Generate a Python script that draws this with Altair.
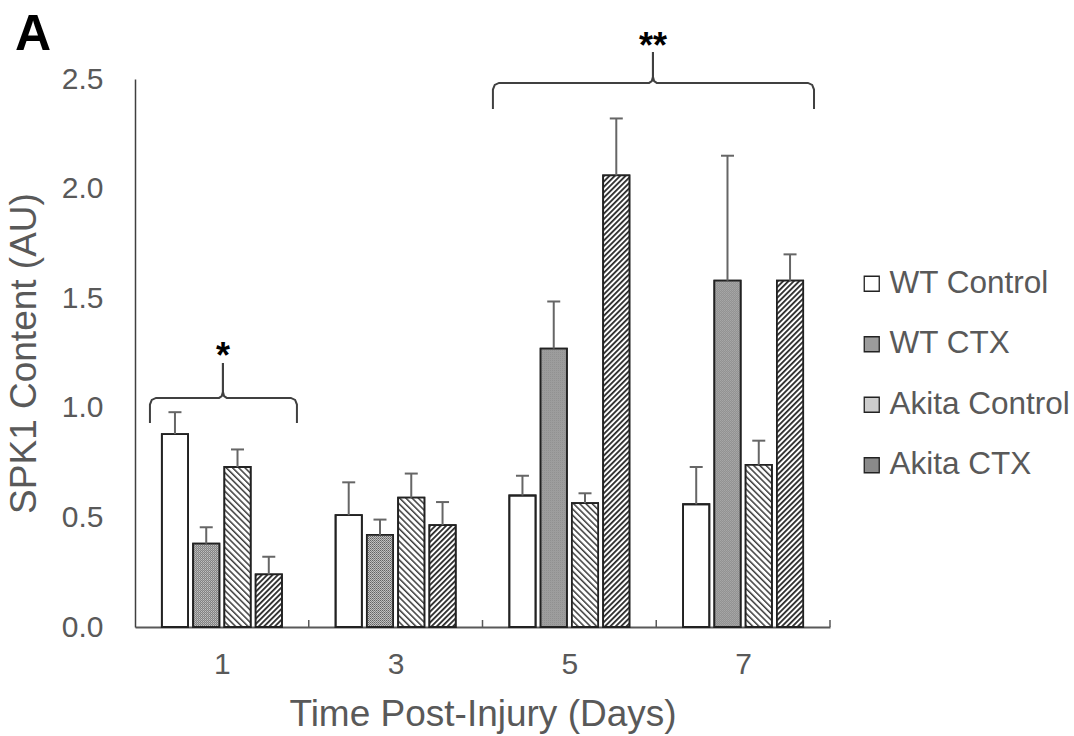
import json
import urllib.parse
import altair as alt
import pandas as pd

FONT = "Liberation Sans"

# ---- data ----
days = ["1", "3", "5", "7"]
groups = ["WT Control", "WT CTX", "Akita Control", "Akita CTX"]

wt_control = [0.88, 0.51, 0.60, 0.56]
wt_ctx = [0.38, 0.42, 1.27, 1.58]
akita_control = [0.73, 0.59, 0.565, 0.74]
akita_ctx = [0.24, 0.465, 2.06, 1.58]

wt_control_err = [0.10, 0.15, 0.09, 0.17]
wt_ctx_err = [0.075, 0.07, 0.215, 0.57]
akita_control_err = [0.08, 0.11, 0.045, 0.11]
akita_ctx_err = [0.08, 0.105, 0.26, 0.12]

y_ticks = [0.0, 0.5, 1.0, 1.5, 2.0, 2.5]

# significance braces, x in "day slots" (0..4 across the axis), y in AU
brace_start = [0.086, 2.06]
brace_end = [0.932, 3.908]
brace_mid = [0.506, 2.981]
brace_low = [0.931, 2.363]
brace_level = [1.045, 2.482]
brace_tip = [1.204, 2.623]
brace_text = ["*", "**"]
brace_text_y = [1.182, 2.594]

# panel letter, placed in the same slot / AU units
panel_text = ["A"]
panel_x = [-0.69]
panel_y = [2.632]

slot_edges = [1, 2, 3, 4]

# ---- tables ----
means = [wt_control, wt_ctx, akita_control, akita_ctx]
errs = [wt_control_err, wt_ctx_err, akita_control_err, akita_ctx_err]
rows = []
for gi, (g, m, e) in enumerate(zip(groups, means, errs)):
    for di, (d, mv, ev) in enumerate(zip(days, m, e)):
        rows.append({"day": d, "di": di, "group": g, "gi": gi, "mean": mv, "upper": mv + ev})
df = pd.DataFrame(rows)

brace_rows = []
ex, dy, tx, ty = 0.035, 0.03, 0.022, 0.028
for i in range(len(brace_start)):
    x0, x1, c = brace_start[i], brace_end[i], brace_mid[i]
    lo, lv, tp = brace_low[i], brace_level[i], brace_tip[i]
    for side, xe, sgn in (("L", x0, 1), ("R", x1, -1)):
        pts = [
            (xe, lo),
            (xe, lv - dy),
            (xe + sgn * ex * 0.3, lv - dy * 0.3),
            (xe + sgn * ex, lv),
            (c - sgn * tx, lv),
            (c - sgn * tx * 0.3, lv + ty * 0.3),
            (c, lv + ty),
            (c, tp),
        ]
        for k, (px, py) in enumerate(pts):
            brace_rows.append({"part": f"{i}{side}", "ord": k, "hx": px, "hy": py})
brace_df = pd.DataFrame(brace_rows)
text_df = pd.DataFrame({"hx": brace_mid, "hy": brace_text_y, "label": brace_text})
panel_df = pd.DataFrame({"hx": panel_x, "hy": panel_y, "label": panel_text})
tick_df = pd.DataFrame({"hx": slot_edges})


# ---- hatch patterns (SVG images filling each bar, unscaled) ----
def pattern_url(pattern_body):
    svg = (
        "<svg xmlns='http://www.w3.org/2000/svg' width='100%' height='100%'>"
        "<defs>" + pattern_body + "</defs>"
        "<rect width='100%' height='100%' fill='url(#p)'/></svg>"
    )
    return "data:image/svg+xml;charset=utf-8," + urllib.parse.quote(svg)


checker = pattern_url(
    "<pattern id='p' width='2' height='2' patternUnits='userSpaceOnUse'>"
    "<rect width='2' height='2' fill='#dedede'/>"
    "<rect width='1' height='1' fill='#555555'/>"
    "<rect x='1' y='1' width='1' height='1' fill='#555555'/></pattern>"
)
back_hatch = pattern_url(
    "<pattern id='p' width='4.4' height='4.4' patternUnits='userSpaceOnUse' patternTransform='rotate(-45)'>"
    "<rect width='4.4' height='4.4' fill='white'/>"
    "<rect width='1.5' height='4.4' fill='#3c3c3c'/></pattern>"
)
fwd_hatch = pattern_url(
    "<pattern id='p' width='3.8' height='3.8' patternUnits='userSpaceOnUse' patternTransform='rotate(45)'>"
    "<rect width='3.8' height='3.8' fill='white'/>"
    "<rect width='1.8' height='3.8' fill='#2a2a2a'/></pattern>"
)
pattern_for = {"WT CTX": checker, "Akita Control": back_hatch, "Akita CTX": fwd_hatch}
legend_fills = ["#ffffff", "#9c9c9c", "#cdcdcd", "#8a8a8a"]

# layout of bars inside a day slot (slot width = 1)
BAR_STEP = 0.18
BAR_W = 0.151

x_scale = alt.Scale(domain=[0, 4], nice=False, zero=False)
y_scale = alt.Scale(domain=[0, 2.5], nice=False, zero=True)

label_expr = json.dumps(days) + "[floor(datum.value)]"
x_axis = alt.Axis(
    title="Time Post-Injury (Days)",
    values=[0.5, 1.5, 2.5, 3.5],
    labelExpr=label_expr,
    labelAngle=0,
    ticks=False,
    grid=False,
    labelFont=FONT,
    labelFontSize=30,
    labelColor="#595959",
    labelBaseline="alphabetic",
    labelPadding=46,
    labelFlush=False,
    labelOverlap=False,
    titleFont=FONT,
    titleFontSize=37,
    titleFontWeight="normal",
    titleColor="#595959",
    titleBaseline="alphabetic",
    titleAlign="center",
    titleX=347.5,
    titleY=98,
    domainColor="#595959",
    domainWidth=2,
)
y_axis = alt.Axis(
    title="SPK1 Content (AU)",
    values=y_ticks,
    format=".1f",
    ticks=False,
    tickSize=0,
    grid=False,
    labelPadding=32,
    labelFont=FONT,
    labelFontSize=30,
    labelColor="#595959",
    labelFlush=False,
    labelOverlap=False,
    titleFont=FONT,
    titleFontSize=37,
    titleFontWeight="normal",
    titleColor="#595959",
    titleAngle=270,
    titleBaseline="alphabetic",
    titleAlign="center",
    titleX=-100,
    titleY=274,
    domainColor="#404040",
    domainWidth=1.5,
)

base = alt.Chart(df).transform_calculate(
    xc=f"datum.di + 0.5 + (datum.gi - 1.5) * {BAR_STEP}",
    zero="0",
).transform_calculate(
    xl=f"datum.xc - {BAR_W / 2}",
    xr=f"datum.xc + {BAR_W / 2}",
)

x_bar = alt.X("xl:Q", scale=x_scale, axis=x_axis)
x2_bar = alt.X2("xr:Q")
y_bar = alt.Y("mean:Q", scale=y_scale, axis=y_axis)
y2_bar = alt.Y2("zero:Q")

bars = base.mark_bar(stroke="#222222", strokeWidth=1.8).encode(
    x=x_bar,
    x2=x2_bar,
    y=y_bar,
    y2=y2_bar,
    fill=alt.Fill(
        "group:N",
        sort=groups,
        scale=alt.Scale(domain=groups, range=legend_fills),
        legend=alt.Legend(
            title=None,
            orient="none",
            legendX=721,
            legendY=189,
            padding=0,
            symbolType="square",
            symbolSize=225,
            symbolStrokeColor="#222222",
            symbolStrokeWidth=1.3,
            labelFont=FONT,
            labelFontSize=31.5,
            labelColor="#595959",
            labelOffset=2,
            labelLimit=0,
            rowPadding=27.5,
        ),
    ),
)

pattern_layers = []
for g in ["WT CTX", "Akita Control", "Akita CTX"]:
    pattern_layers.append(
        base.transform_filter(alt.datum.group == g)
        .mark_image(aspect=False)
        .encode(x=x_bar, x2=x2_bar, y=y_bar, y2=y2_bar, url=alt.value(pattern_for[g]))
    )

outlines = base.mark_bar(fillOpacity=0, stroke="#222222", strokeWidth=1.8).encode(
    x=x_bar, x2=x2_bar, y=y_bar, y2=y2_bar
)

x_c = alt.X("xc:Q", scale=x_scale, axis=x_axis)
err_lines = base.mark_rule(color="#666666", strokeWidth=2).encode(x=x_c, y=y_bar, y2="upper:Q")
err_caps = base.mark_tick(orient="horizontal", size=13, thickness=2, color="#666666", opacity=1).encode(
    x=x_c, y=alt.Y("upper:Q", scale=y_scale, axis=y_axis)
)

hx_enc = alt.X("hx:Q", scale=x_scale, axis=x_axis)
hy_enc = alt.Y("hy:Q", scale=y_scale, axis=y_axis)

braces = alt.Chart(brace_df).mark_line(color="#404040", strokeWidth=2, clip=False).encode(
    x=hx_enc, y=hy_enc, detail="part:N", order="ord:Q"
)
stars = alt.Chart(text_df).mark_text(
    font=FONT, fontSize=36, fontWeight="bold", color="black", baseline="alphabetic", align="center", clip=False
).encode(x=hx_enc, y=hy_enc, text="label:N")
panel = alt.Chart(panel_df).mark_text(
    font=FONT, fontSize=50, fontWeight="bold", color="black", baseline="alphabetic", align="left", clip=False
).encode(x=hx_enc, y=hy_enc, text="label:N")
xticks = (
    alt.Chart(tick_df)
    .transform_calculate(t0="0", t1="0.032")
    .mark_rule(color="#595959", strokeWidth=1.5)
    .encode(x=hx_enc, y=alt.Y("t0:Q", scale=y_scale, axis=y_axis), y2="t1:Q")
)

chart = (
    alt.layer(bars, *pattern_layers, outlines, err_lines, err_caps, xticks, braces, stars, panel)
    .properties(
        width=695,
        height=548,
        autosize=alt.AutoSizeParams(type="none"),
        padding={"left": 135, "top": 79, "right": 244, "bottom": 109},
    )
    .configure_view(strokeWidth=0)
)

chart.save("out.html", embed_options={"renderer": "svg", "actions": False})
